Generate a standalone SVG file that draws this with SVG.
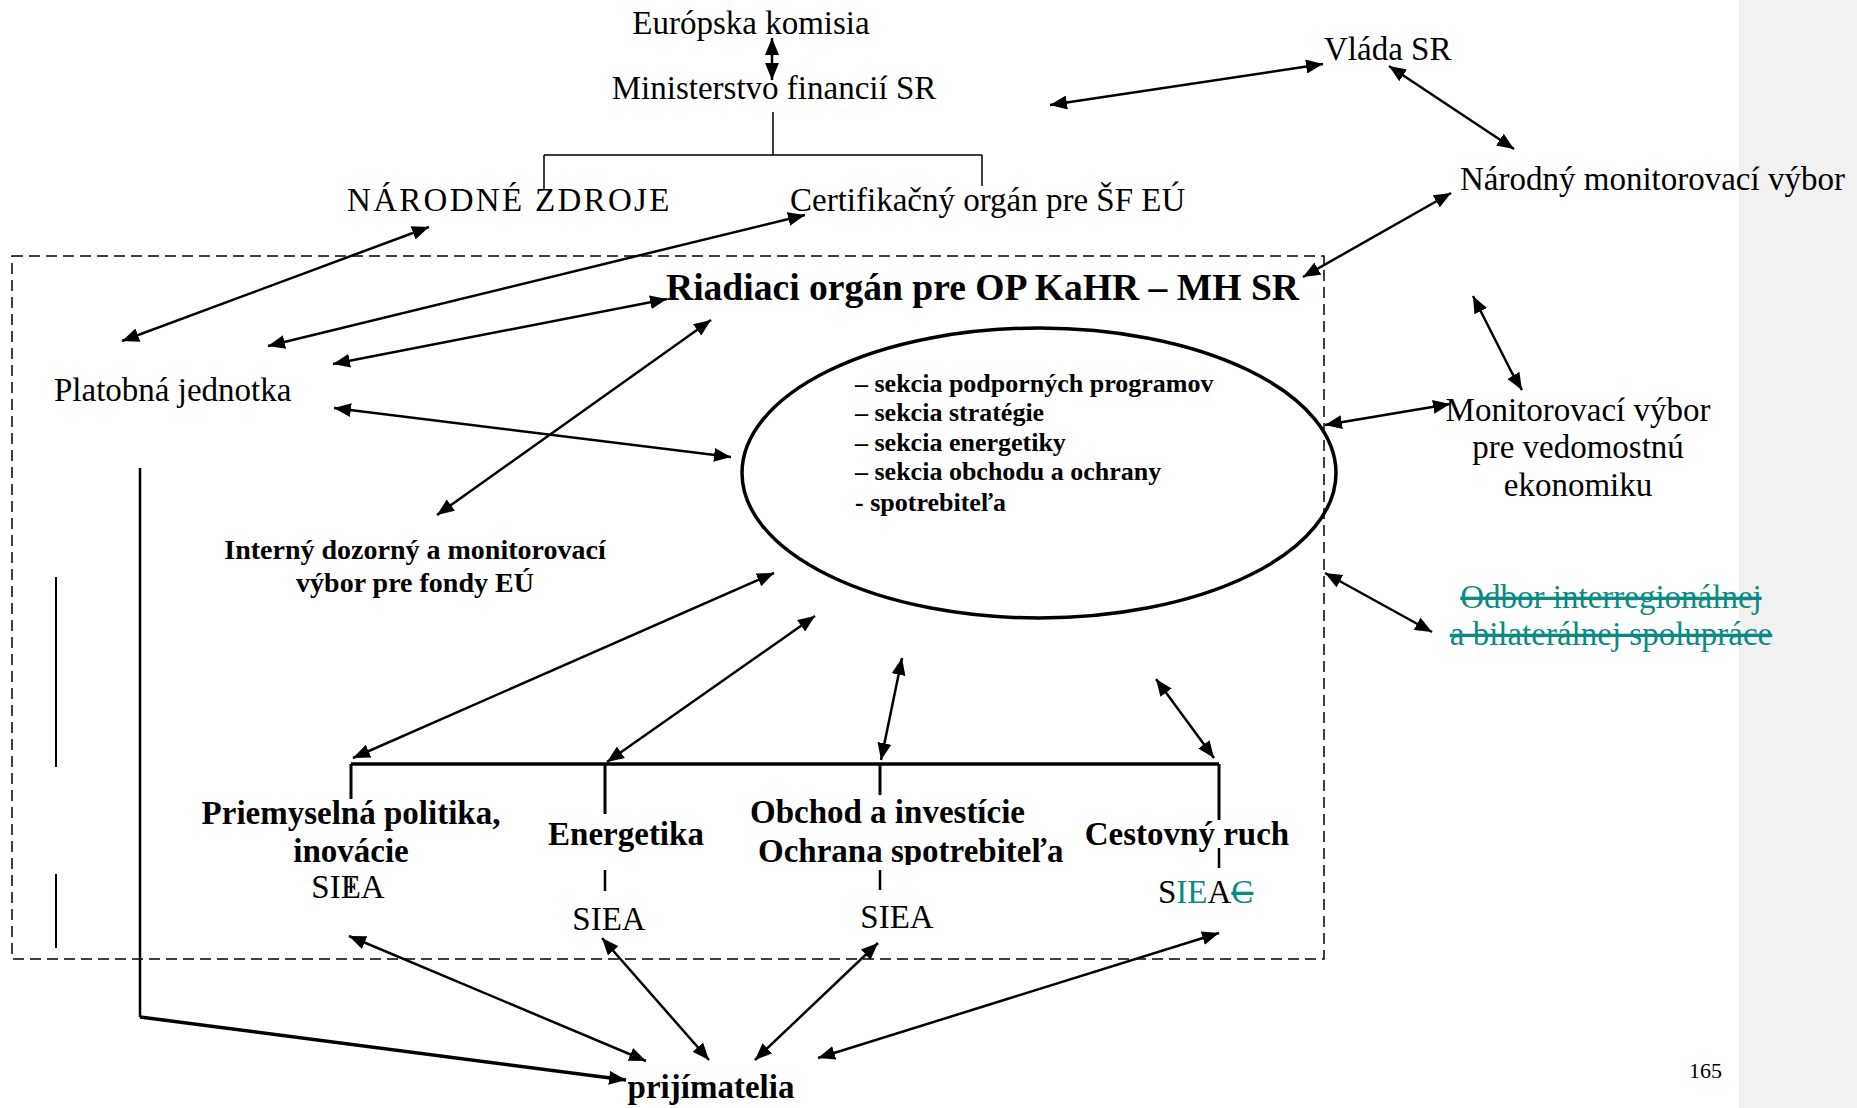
<svg xmlns="http://www.w3.org/2000/svg" width="1857" height="1108" viewBox="0 0 1857 1108">
<defs>
<style>
.t{font-family:"Liberation Serif","Times New Roman",serif;font-size:33px;fill:#000}
.b{font-weight:bold}
.ro{font-size:37.6px}
.sm{font-size:28px}
.sk{font-size:26px}
.pg{font-size:22px}
.teal{fill:#0b8a84}
.c{stroke:#000;stroke-width:2.5;fill:none}
.arr{marker-start:url(#ah);marker-end:url(#ah)}
.ln{stroke:#000;fill:none}
</style>
<marker id="ah" markerUnits="userSpaceOnUse" markerWidth="18" markerHeight="14" refX="17" refY="7" orient="auto-start-reverse">
<path d="M0,0 L17,7 L0,14 z" fill="#000"/>
</marker>
<clipPath id="clipOch"><rect x="700" y="830" width="420" height="35"/></clipPath>
</defs>
<rect x="0" y="0" width="1857" height="1108" fill="#fff"/>
<rect x="1739" y="0" width="118" height="1108" fill="#f1f1f1"/>

<g id="frame">
<rect x="12" y="256" width="1312" height="703" fill="none" stroke="#000" stroke-width="1.5" stroke-dasharray="11 6"/>
</g>

<g id="n-ek"><text class="t" x="751" y="34" text-anchor="middle">Európska komisia</text></g>
<g id="n-mf"><text class="t" x="774" y="99" text-anchor="middle">Ministerstvo financií SR</text></g>
<g id="n-nz"><text class="t" x="347" y="211" letter-spacing="2.3">NÁRODNÉ ZDROJE</text></g>
<g id="n-co"><text class="t" x="790" y="211">Certifikačný orgán pre ŠF EÚ</text></g>
<g id="n-vlada"><text class="t" x="1324" y="60">Vláda SR</text></g>
<g id="n-nmv"><text class="t" x="1460" y="190">Národný monitorovací výbor</text></g>
<g id="n-ro"><text class="t b ro" x="666" y="300">Riadiaci orgán pre OP KaHR – MH SR</text></g>
<g id="n-pj"><text class="t" x="54" y="401">Platobná jednotka</text></g>
<g id="n-idmv">
<text class="t b sm" x="415" y="559" text-anchor="middle">Interný dozorný a monitorovací</text>
<text class="t b sm" x="415" y="592" text-anchor="middle">výbor pre fondy EÚ</text>
</g>
<g id="n-sekcie">
<ellipse cx="1039" cy="473" rx="297" ry="145" fill="none" stroke="#000" stroke-width="3.5"/>
<text class="t b sk">
<tspan x="855" y="392">– sekcia podporných programov</tspan>
<tspan x="855" y="421">– sekcia stratégie</tspan>
<tspan x="855" y="451">– sekcia energetiky</tspan>
<tspan x="855" y="480">– sekcia obchodu a ochrany</tspan>
<tspan x="855" y="511">- spotrebiteľa</tspan>
</text>
</g>
<g id="n-mvve">
<text class="t" x="1578" y="421" text-anchor="middle">Monitorovací výbor</text>
<text class="t" x="1578" y="458" text-anchor="middle">pre vedomostnú</text>
<text class="t" x="1578" y="496" text-anchor="middle">ekonomiku</text>
</g>
<g id="n-odbor">
<text class="t teal" x="1611" y="608" text-anchor="middle" text-decoration="line-through">Odbor interregionálnej</text>
<text class="t teal" x="1611" y="645" text-anchor="middle" text-decoration="line-through">a bilaterálnej spolupráce</text>
</g>
<g id="n-pp">
<text class="t b" x="351" y="824" text-anchor="middle">Priemyselná politika,</text>
<text class="t b" x="351" y="862" text-anchor="middle">inovácie</text>
<text class="t" x="348" y="898" text-anchor="middle">SIEA</text>
</g>
<g id="n-en">
<text class="t b" x="626" y="845" text-anchor="middle">Energetika</text>
<text class="t" x="609" y="930" text-anchor="middle">SIEA</text>
</g>
<g id="n-ob">
<text class="t b" x="750" y="823">Obchod a investície</text>
<text class="t b" x="758" y="862" clip-path="url(#clipOch)">Ochrana spotrebiteľa</text>
<text class="t" x="897" y="928" text-anchor="middle">SIEA</text>
</g>
<g id="n-cr">
<text class="t b" x="1187" y="845" text-anchor="middle">Cestovný ruch</text>
<text class="t" x="1158" y="903">S<tspan class="teal">IE</tspan>A<tspan class="teal" text-decoration="line-through">C</tspan></text>
</g>
<g id="n-prij"><text class="t b" x="711" y="1098" text-anchor="middle">prijímatelia</text></g>
<g id="pagenum"><text class="t pg" x="1689" y="1078">165</text></g>

<g id="connectors">
<path class="ln" stroke-width="1.5" d="M773,112 V155 M544,155 H982 M544,155 V189 M982,155 V186"/>
<path class="ln" stroke-width="3.5" d="M351,764 H1219"/>
<path class="ln" stroke-width="3" d="M351,764 V799 M605,764 V814 M880,764 V795 M1219,764 V820"/>
<path class="ln" stroke-width="2.5" d="M351,878 V893 M605,870 V891 M880,870 V890 M1219,848 V868"/>
<path class="ln" stroke-width="2" d="M56,577 V767 M56,874 V948"/>
<path class="ln" stroke-width="2.5" d="M140,468 V1017"/>
<path class="ln" stroke-width="3.5" d="M140,1017 L626,1080" marker-end="url(#ah)"/>
<line class="c arr" x1="772" y1="38" x2="772" y2="80"/>
<line class="c arr" x1="1050" y1="105" x2="1323" y2="64"/>
<line class="c arr" x1="1389" y1="66" x2="1514" y2="149"/>
<line class="c arr" x1="1451" y1="193" x2="1303" y2="277"/>
<path class="c arr" d="M1473,296 L1512,373 L1522,390"/>
<line class="c arr" x1="1325" y1="425" x2="1450" y2="404"/>
<line class="c arr" x1="1325" y1="573" x2="1432" y2="632"/>
<line class="c arr" x1="122" y1="341" x2="429" y2="227"/>
<line class="c arr" x1="268" y1="346" x2="805" y2="215"/>
<line class="c arr" x1="333" y1="364" x2="667" y2="299" stroke-width="3"/>
<line class="c arr" x1="334" y1="408" x2="731" y2="457" stroke-width="3"/>
<line class="c arr" x1="437" y1="515" x2="711" y2="320"/>
<line class="c arr" x1="353" y1="758" x2="774" y2="573"/>
<line class="c arr" x1="607" y1="762" x2="815" y2="616"/>
<line class="c arr" x1="881" y1="760" x2="902" y2="658"/>
<line class="c arr" x1="1214" y1="758" x2="1156" y2="679"/>
<line class="c arr" x1="349" y1="936" x2="646" y2="1061"/>
<line class="c arr" x1="602" y1="938" x2="709" y2="1060"/>
<line class="c arr" x1="878" y1="943" x2="755" y2="1060"/>
<line class="c arr" x1="1219" y1="933" x2="818" y2="1058"/>
</g>
</svg>
